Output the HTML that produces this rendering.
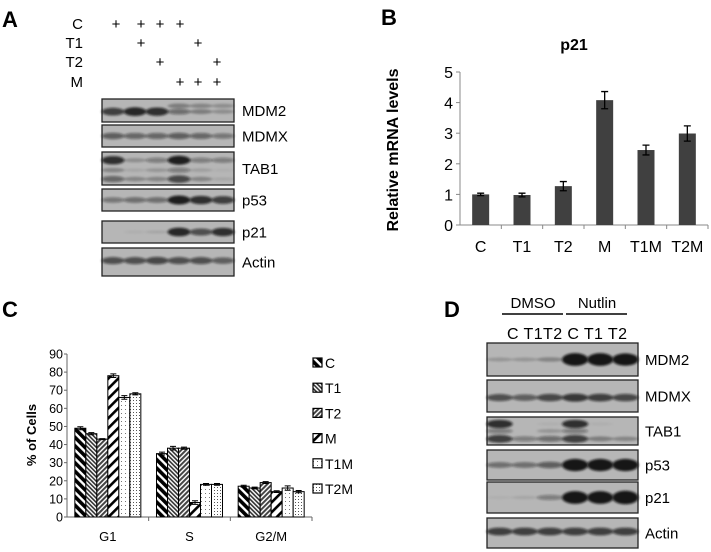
<!DOCTYPE html>
<html><head><meta charset="utf-8"><style>
html,body{margin:0;padding:0;background:#fff;}
svg{display:block;font-family:"Liberation Sans",Arial,sans-serif;}
</style></head><body>
<svg id="fig" width="711" height="552" viewBox="0 0 711 552" xmlns="http://www.w3.org/2000/svg">
<defs>
<filter id="blur" x="-50%" y="-200%" width="200%" height="500%"><feGaussianBlur stdDeviation="1.4 1.1"/></filter>
<pattern id="pC" width="6" height="6" patternUnits="userSpaceOnUse" patternTransform="rotate(-45)"><rect width="6" height="6" fill="#fff"/><rect width="3.6" height="6" fill="#000"/></pattern>
<pattern id="pT1" width="3" height="3" patternUnits="userSpaceOnUse" patternTransform="rotate(-45)"><rect width="3" height="3" fill="#fff"/><rect width="1.6" height="3" fill="#333"/></pattern>
<pattern id="pT2" width="3.4" height="3.4" patternUnits="userSpaceOnUse" patternTransform="rotate(45)"><rect width="3.4" height="3.4" fill="#fff"/><rect width="2" height="3.4" fill="#444"/></pattern>
<pattern id="pM" width="7" height="7" patternUnits="userSpaceOnUse" patternTransform="rotate(45)"><rect width="7" height="7" fill="#fff"/><rect width="2.6" height="7" fill="#000"/></pattern>
<pattern id="pT1M" width="4" height="4" patternUnits="userSpaceOnUse"><rect width="4" height="4" fill="#fff"/><rect x="1" y="1" width="1" height="1" fill="#777"/></pattern>
<pattern id="pT2M" width="3" height="3" patternUnits="userSpaceOnUse"><rect width="3" height="3" fill="#fff"/><rect x="1" y="1" width="1" height="1" fill="#555"/></pattern>
</defs>

<!-- Panel A -->
<text x="2" y="27" font-size="22" font-weight="bold">A</text>
<g font-size="15">
<text x="83" y="29" text-anchor="end">C</text>
<text x="83" y="48" text-anchor="end">T1</text>
<text x="83" y="67" text-anchor="end">T2</text>
<text x="83" y="87" text-anchor="end">M</text>
</g>
<g id="plusA" font-size="15" text-anchor="middle"></g>
<g id="blotA"></g>

<!-- Panel B -->
<text x="381" y="25" font-size="22" font-weight="bold">B</text>
<text x="574" y="50" font-size="16" font-weight="bold" text-anchor="middle">p21</text>
<text transform="translate(398,150) rotate(-90)" font-size="16" font-weight="bold" text-anchor="middle">Relative mRNA levels</text>
<g id="chartB"></g>

<!-- Panel C -->
<text x="2" y="317" font-size="22" font-weight="bold">C</text>
<text transform="translate(36,435) rotate(-90)" font-size="13" font-weight="bold" text-anchor="middle">% of Cells</text>
<g id="chartC"></g>

<!-- Panel D -->
<text x="444" y="317" font-size="22" font-weight="bold">D</text>
<text x="533" y="308" font-size="15" text-anchor="middle">DMSO</text>
<line x1="502" y1="314" x2="563" y2="314" stroke="#000" stroke-width="1.5"/>
<text x="597" y="308" font-size="15" text-anchor="middle">Nutlin</text>
<line x1="566" y1="314" x2="627" y2="314" stroke="#000" stroke-width="1.5"/>
<text x="507" y="339" font-size="16" textLength="120" lengthAdjust="spacing">C T1T2 C T1 T2</text>
<g id="blotD"></g>
</svg>
<script>
const NS="http://www.w3.org/2000/svg";
function mk(tag,attrs,parent){const e=document.createElementNS(NS,tag);for(const k in attrs)e.setAttribute(k,attrs[k]);parent.appendChild(e);return e;}

const plusCols=[116,141,160,180,198,217];
const plusRows=[[1,1,1,1,0,0],[0,1,0,0,1,0],[0,0,1,0,0,1],[0,0,0,1,1,1]];
const plusY=[29,48,67,87];
const pg=document.getElementById('plusA');
plusRows.forEach((r,i)=>r.forEach((v,j)=>{if(v){const t=mk('text',{x:plusCols[j],y:plusY[i]},pg);t.textContent='+';}}));

function blot(g,x0,x1,rows,labelX){
  const n=rows[0].bands[0].length-1;const lw=(x1-x0)/n;
  rows.forEach(r=>{
    const rg=mk('g',{},g);
    
    
    mk('rect',{x:x0,y:r.y,width:x1-x0,height:r.h,fill:'#b6b6b6',stroke:'#222','stroke-width':1.3},rg);
    r.bands.forEach(b=>{
      const ry=b[0];
      for(let i=0;i<n;i++){const v=b[i+1];if(v<=0)continue;
        mk('ellipse',{cx:x0+lw*(i+0.5),cy:r.y+r.h*ry,rx:lw*0.52,ry:1.3+v*3.2,fill:'#111','fill-opacity':Math.min(0.95,v*0.9),filter:'url(#blur)'},rg);}
    });
    const t=mk('text',{x:labelX,y:r.y+r.h/2+5.5,'font-size':15},rg);t.textContent=r.name;
  });
}
const rowsA=[
 {name:'MDM2',y:99,h:23,bands:[[0.55,0.8,0.95,0.9,0.5,0.35,0.25],[0.3,0,0,0,0.35,0.3,0.25]]},
 {name:'MDMX',y:125,h:22,bands:[[0.5,0.6,0.55,0.55,0.6,0.55,0.45]]},
 {name:'TAB1',y:152,h:33,bands:[[0.25,0.9,0.25,0.4,1,0.4,0.4],[0.55,0.3,0.1,0.2,0.4,0.15,0.05],[0.82,0.55,0.3,0.3,0.75,0.3,0.1]]},
 {name:'p53',y:189,h:22,bands:[[0.5,0.45,0.5,0.5,1,0.9,0.8]]},
 {name:'p21',y:221,h:22,bands:[[0.5,0,0.05,0.1,0.95,0.7,0.9]]},
 {name:'Actin',y:248,h:28,bands:[[0.45,0.7,0.7,0.75,0.7,0.7,0.6]]}
];
blot(document.getElementById('blotA'),102,234,rowsA,242);
const rowsD=[
 {name:'MDM2',y:343,h:33,bands:[[0.5,0.2,0.2,0.3,1.6,1.6,1.5]]},
 {name:'MDMX',y:380,h:32,bands:[[0.55,0.7,0.6,0.75,0.85,0.8,0.75]]},
 {name:'TAB1',y:417,h:28,bands:[[0.25,0.9,0,0.05,0.9,0.05,0],[0.5,0.4,0,0.2,0.4,0,0],[0.78,0.8,0.4,0.5,0.8,0.35,0.3]]},
 {name:'p53',y:450,h:30,bands:[[0.5,0.5,0.5,0.6,1.5,1.5,1.5]]},
 {name:'p21',y:482,h:31,bands:[[0.5,0.05,0.1,0.4,1.6,1.6,1.7]]},
 {name:'Actin',y:518,h:30,bands:[[0.45,0.8,0.8,0.8,0.8,0.8,0.8]]}
];
blot(document.getElementById('blotD'),487,638,rowsD,645);

const catsB=['C','T1','T2','M','T1M','T2M'];
const valsB=[1.0,0.98,1.27,4.08,2.45,2.99];
const errB=[0.04,0.06,0.15,0.28,0.16,0.25];
const ticksB=[0,1,2,3,4,5];
const gB=document.getElementById('chartB');
const bX0=460,bX1=708,bY0=225,bY5=72;
const yB=v=>bY0-(v/5)*(bY0-bY5);
const cwB=(bX1-bX0)/catsB.length;
const xB=i=>bX0+cwB*(i+0.5);
mk('line',{x1:bX0,y1:yB(5),x2:bX0,y2:bY0,stroke:'#888'},gB);
mk('line',{x1:bX0,y1:bY0,x2:bX1,y2:bY0,stroke:'#888'},gB);
ticksB.forEach(t=>{mk('line',{x1:bX0-4,y1:yB(t),x2:bX0,y2:yB(t),stroke:'#888'},gB);
  const tx=mk('text',{x:bX0-7,y:yB(t)+6,'font-size':16,'text-anchor':'end'},gB);tx.textContent=t;
  
  });
catsB.forEach((c,i)=>{
  mk('line',{x1:bX0+cwB*(i+1),y1:bY0,x2:bX0+cwB*(i+1),y2:bY0+4,stroke:'#888'},gB);
  const r=mk('rect',{x:xB(i)-8.5,y:yB(valsB[i]),width:17,height:bY0-yB(valsB[i]),fill:'#404040'},gB);
  
  
  const e1=yB(valsB[i]+errB[i]),e2=yB(valsB[i]-errB[i]);
  mk('path',{d:`M${xB(i)},${e1}V${e2}M${xB(i)-3.5},${e1}h7M${xB(i)-3.5},${e2}h7`,stroke:'#000','stroke-width':1.3,fill:'none'},gB);
  const t=mk('text',{x:xB(i),y:252,'font-size':16,'text-anchor':'middle'},gB);t.textContent=c;
  
  
});

const groupsC=['G1','S','G2/M'];
const seriesC=['C','T1','T2','M','T1M','T2M'];
const valsC_C=[49,35,17];
const valsC_T1=[46,38,16];
const valsC_T2=[43,38,19];
const valsC_M=[78,8,14];
const valsC_T1M=[66,18,16];
const valsC_T2M=[68,18,14];
const errC=[[0.8,0.8,0.5],[0.6,1,0.5],[0.3,0.6,0.5],[1,1,0.5],[1,0.5,1.2],[0.6,0.5,0.6]];
const ticksC=[0,10,20,30,40,50,60,70,80,90];
const allC=[valsC_C,valsC_T1,valsC_T2,valsC_M,valsC_T1M,valsC_T2M];
const fills=['url(#pC)','url(#pT1)','url(#pT2)','url(#pM)','url(#pT1M)','url(#pT2M)'];
const gC=document.getElementById('chartC');
const cX0=67,cX1=312,cY0=517,cY90=354;
const yC=v=>cY0-(v/90)*(cY0-cY90);
const gw=(cX1-cX0)/groupsC.length,bw=11;
mk('line',{x1:cX0,y1:cY90,x2:cX0,y2:cY0,stroke:'#666'},gC);
mk('line',{x1:cX0,y1:cY0,x2:cX1,y2:cY0,stroke:'#666'},gC);
ticksC.forEach(t=>{mk('line',{x1:cX0-3,y1:yC(t),x2:cX0,y2:yC(t),stroke:'#666'},gC);
  const tx=mk('text',{x:cX0-4,y:yC(t)+4.5,'font-size':12.5,'text-anchor':'end'},gC);tx.textContent=t;
  
  });
groupsC.forEach((g,gi)=>{
  mk('line',{x1:cX0+gw*(gi+1),y1:cY0,x2:cX0+gw*(gi+1),y2:cY0+4,stroke:'#666'},gC);
  const gx=cX0+gw*gi+(gw-bw*6)/2;
  allC.forEach((s,si)=>{
    const v=s[gi];
    const r=mk('rect',{x:gx+bw*si,y:yC(v),width:bw,height:cY0-yC(v),fill:fills[si],stroke:'#000','stroke-width':1},gC);
    
    
    const cx=gx+bw*si+bw/2,e1=yC(v+errC[si][gi]),e2=yC(v-errC[si][gi]);
    mk('path',{d:`M${cx},${e1}V${e2}M${cx-3},${e1}h6M${cx-3},${e2}h6`,stroke:'#000','stroke-width':1},gC);
  });
  const t=mk('text',{x:cX0+gw*(gi+0.5),y:541,'font-size':13,'text-anchor':'middle'},gC);t.textContent=g;
  
  
});
seriesC.forEach((s,si)=>{
  const ly=358+si*25.2;
  const lg=mk('g',{},gC);
  
  
  mk('rect',{x:313,y:ly,width:9,height:9,fill:fills[si],stroke:'#000','stroke-width':1.2},lg);
  const t=mk('text',{x:325,y:ly+10,'font-size':14},lg);t.textContent=s;
});
</script>
</body></html>
